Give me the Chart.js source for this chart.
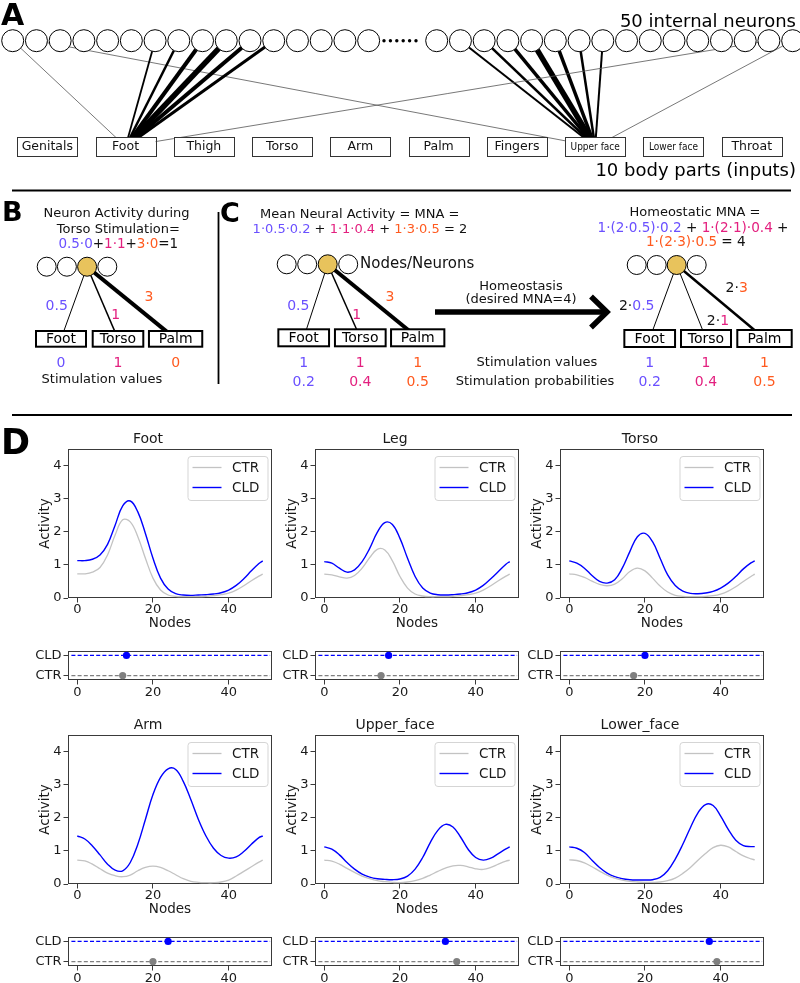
<!DOCTYPE html>
<html><head><meta charset="utf-8">
<script src="https://cdn.jsdelivr.net/npm/chart.js@4.4.1/dist/chart.umd.min.js"></script>
<style>
html,body{margin:0;padding:0;background:#fff;}
#page{position:relative;width:800px;height:983px;overflow:hidden;background:#fff;}
#page canvas{position:absolute;}
</style></head><body><div id="page"></div>
<script>
// ================= DATA =================
// Panel A: network schematic
const BODY_PARTS = ['Genitals','Foot','Thigh','Torso','Arm','Palm','Fingers','Upper face','Lower face','Throat'];
const NEURON_SLOTS = 32; // visible neuron circles (16 left, 16 right of the ellipsis)
// [neuron slot, body part index, connection strength]
const CONNECTIONS = [
  [0,1,0.8],[6,1,1.8],[7,1,2.5],[8,1,4],[9,1,5.5],[10,1,4],[11,1,3],[30,1,0.8],
  [1,7,0.8],[17,7,2],[18,7,2.5],[19,7,3.5],[20,7,5.5],[21,7,3.5],[22,7,2.5],[23,7,2],[31,7,0.8]
];
// Panels B / C
const MINI_PARTS = ['Foot','Torso','Palm'];
const MINI_WEIGHTS = ['0.5','1','3'];
const STIM_B = ['0','1','0'];
const STIM_C = ['1','1','1'];
const PROBS_C = ['0.2','0.4','0.5'];

// Panel D
const NODES = [0,2,4,6,8,10,12,14,16,18,20,22,24,26,28,30,32,34,36,38,40,42,44,46,48,49];
const REGIONS = ['Foot','Leg','Torso','Arm','Upper_face','Lower_face'];
const CTR_FOOT = [0.73,0.73,0.78,0.92,1.30,1.90,2.36,2.30,1.85,1.20,0.60,0.24,0.09,0.05,0.04,0.04,0.04,0.05,0.07,0.10,0.15,0.24,0.37,0.52,0.66,0.72];
const CLD_FOOT = [1.13,1.13,1.17,1.30,1.62,2.20,2.78,2.93,2.60,1.95,1.20,0.60,0.27,0.13,0.09,0.08,0.09,0.10,0.12,0.16,0.24,0.38,0.58,0.82,1.04,1.12];
const CTR_LEG = [0.72,0.70,0.64,0.60,0.68,0.90,1.22,1.47,1.45,1.12,0.65,0.30,0.12,0.06,0.04,0.04,0.04,0.05,0.07,0.10,0.15,0.24,0.37,0.52,0.66,0.72];
const CLD_LEG = [1.10,1.05,0.90,0.78,0.85,1.10,1.50,1.98,2.28,2.22,1.80,1.20,0.65,0.30,0.15,0.10,0.09,0.10,0.12,0.16,0.24,0.38,0.58,0.80,1.02,1.10];
const CTR_TORSO = [0.73,0.70,0.62,0.51,0.41,0.37,0.42,0.58,0.80,0.90,0.82,0.60,0.36,0.18,0.08,0.05,0.04,0.04,0.05,0.07,0.12,0.21,0.34,0.50,0.65,0.72];
const CLD_TORSO = [1.12,1.05,0.90,0.68,0.50,0.45,0.55,0.90,1.40,1.85,1.95,1.70,1.20,0.70,0.38,0.21,0.14,0.13,0.15,0.20,0.30,0.45,0.65,0.88,1.06,1.12];
const CTR_ARM = [0.72,0.70,0.60,0.46,0.33,0.25,0.22,0.27,0.40,0.50,0.54,0.50,0.40,0.28,0.16,0.08,0.05,0.04,0.04,0.06,0.12,0.24,0.38,0.52,0.66,0.72];
const CLD_ARM = [1.45,1.36,1.15,0.88,0.60,0.42,0.40,0.65,1.20,1.95,2.70,3.22,3.48,3.46,3.10,2.55,1.95,1.45,1.08,0.86,0.78,0.82,0.98,1.20,1.40,1.45];
const CTR_UPPER = [0.72,0.69,0.60,0.47,0.35,0.24,0.16,0.10,0.07,0.05,0.04,0.06,0.10,0.17,0.27,0.38,0.48,0.55,0.56,0.52,0.46,0.44,0.50,0.60,0.69,0.72];
const CLD_UPPER = [1.12,1.05,0.88,0.65,0.45,0.30,0.21,0.16,0.14,0.13,0.15,0.24,0.45,0.80,1.25,1.62,1.80,1.72,1.42,1.05,0.80,0.72,0.78,0.92,1.06,1.12];
const CTR_LOWER = [0.73,0.71,0.64,0.52,0.39,0.27,0.18,0.12,0.08,0.06,0.05,0.05,0.06,0.10,0.18,0.32,0.50,0.72,0.92,1.10,1.17,1.12,0.98,0.85,0.76,0.73];
const CLD_LOWER = [1.12,1.08,0.95,0.72,0.50,0.33,0.22,0.16,0.13,0.12,0.12,0.13,0.20,0.40,0.75,1.20,1.70,2.15,2.40,2.37,2.05,1.65,1.32,1.16,1.13,1.13];
const CTR_PEAK = [12,15,17,20,35,39];
const CLD_PEAK = [13,17,20,24,32,37];
const ACTIVITY_TICKS = [0,1,2,3,4];
const NODE_TICKS = [0,20,40];
const GROUP_LABELS = ['CTR','CLD'];

const CTR_SERIES = [CTR_FOOT,CTR_LEG,CTR_TORSO,CTR_ARM,CTR_UPPER,CTR_LOWER];
const CLD_SERIES = [CLD_FOOT,CLD_LEG,CLD_TORSO,CLD_ARM,CLD_UPPER,CLD_LOWER];

// ================= STYLE / LAYOUT =================
const FONT = "'DejaVu Sans', Verdana, sans-serif";
const PURPLE = '#6a50ff', MAGENTA = '#e3207f', ORANGE = '#ff5a1f', GOLD = '#e8c35c';
Chart.defaults.font.family = FONT;
Chart.defaults.color = '#111';
const page = document.getElementById('page');
function addCanvas(l,t,w,h){
  const c = document.createElement('canvas');
  c.width = w; c.height = h;
  c.style.left = l+'px'; c.style.top = t+'px'; c.style.width = w+'px'; c.style.height = h+'px';
  page.appendChild(c); return c;
}
function rich(ctx, segs, x, y, size, align, weight){
  ctx.font = (weight||'') + ' ' + size + 'px ' + FONT;
  const w = segs.reduce((s,[t])=>s+ctx.measureText(t).width,0);
  let cx = align==='center' ? x-w/2 : align==='right' ? x-w : x;
  ctx.textAlign = 'left'; ctx.textBaseline = 'middle';
  for (const [t,c] of segs){ ctx.fillStyle = c; ctx.fillText(t,cx,y); cx += ctx.measureText(t).width; }
}

// ---- Panel A geometry
const A_NY = 40.7, A_NR = 11, A_DX = 23.73, A_X0L = 12.7, A_X0R = 436.7;
const neuronX = i => i < NEURON_SLOTS/2 ? A_X0L + i*A_DX : A_X0R + (i-NEURON_SLOTS/2)*A_DX;
const PART_X0 = 47.3, PART_DX = 78.27, PART_TOP = 137, PART_H = 19, PART_W = 60;
const partX = j => PART_X0 + j*PART_DX;
const PART_CY = PART_TOP + PART_H/2;

// ---- Panels B / C geometry
const MINI = [
  {nx0:46.7, ndx:20.2, ny:266.7, r:9.5, bx:[61,118,175.6], bw:[50,50.6,53.3], btop:331, bh:15.7, lw:[1,1.5,4]},
  {nx0:286.7, ndx:20.5, ny:264.3, r:9.5, bx:[303.7,360.3,417.7], bw:[50.7,50.7,53.3], btop:329.3, bh:17, lw:[1,1.5,4]},
  {nx0:636.7, ndx:20, ny:265, r:9.5, bx:[649.7,706,764.5], bw:[50.7,50,54.4], btop:330, bh:17, lw:[1,1,2.5]}
];
const YELLOW_IDX = 2;

// ---- datasets for diagram chart
const diagDatasets = [];
diagDatasets.push({
  label:'neurons', order:0, clip:false,
  data: Array.from({length:NEURON_SLOTS},(_,i)=>({x:neuronX(i), y:A_NY})),
  pointRadius:A_NR, pointBackgroundColor:'#fff', pointBorderColor:'#000', pointBorderWidth:1, showLine:false
});
CONNECTIONS.forEach(([n,p,s])=>{
  diagDatasets.push({
    label:'link', order:2, clip:false, showLine:true, pointRadius:0,
    data:[{x:neuronX(n), y:A_NY},{x:partX(p), y:PART_CY}],
    borderColor: s < 1 ? '#555' : '#000', borderWidth:s
  });
});
MINI.forEach(m=>{
  diagDatasets.push({
    label:'mini neurons', order:0, clip:false, showLine:false,
    data:[0,1,2,3].map(i=>({x:m.nx0+i*m.ndx, y:m.ny})),
    pointRadius:m.r, pointBorderColor:'#000', pointBorderWidth:1,
    pointBackgroundColor:[0,1,2,3].map(i=> i===YELLOW_IDX ? GOLD : '#fff')
  });
  MINI_PARTS.forEach((p,j)=>{
    diagDatasets.push({
      label:'mini link', order:2, clip:false, showLine:true, pointRadius:0,
      data:[{x:m.nx0+YELLOW_IDX*m.ndx, y:m.ny},{x:m.bx[j], y:m.btop+m.bh/2}],
      borderColor:'#000', borderWidth:m.lw[j]
    });
  });
});

const diagramPlugin = {
  id:'diagram',
  afterDatasetsDraw(chart){
    const ctx = chart.ctx;
    ctx.save();
    // panel letters
    ctx.fillStyle = '#000'; ctx.textAlign = 'left'; ctx.textBaseline = 'alphabetic';
    ctx.font = 'bold 30px ' + FONT; ctx.fillText('A', 1, 25);
    ctx.font = 'bold 27px ' + FONT; ctx.fillText('B', 2, 220.5); ctx.fillText('C', 220, 221.5);
    ctx.font = 'bold 35px ' + FONT; ctx.fillText('D', 1, 454);
    // ellipsis dots
    for (let k=0;k<6;k++){ ctx.beginPath(); ctx.arc(384+k*6.4, A_NY, 1.7, 0, Math.PI*2); ctx.fill(); }
    // A texts
    ctx.font = '18px ' + FONT; ctx.textAlign = 'right';
    ctx.fillText('50 internal neurons', 796, 27);
    ctx.fillText('10 body parts (inputs)', 796, 176);
    // body part boxes
    BODY_PARTS.forEach((p,j)=>{
      const x = partX(j);
      ctx.fillStyle = '#fff'; ctx.fillRect(x-PART_W/2, PART_TOP, PART_W, PART_H);
      ctx.strokeStyle = '#333'; ctx.lineWidth = 1;
      ctx.strokeRect(Math.round(x-PART_W/2)+0.5, PART_TOP+0.5, PART_W, PART_H);
      ctx.fillStyle = '#111'; ctx.textAlign = 'center'; ctx.textBaseline = 'middle';
      const small = p.indexOf(' ')>0;
      ctx.font = (small ? '10px ' : '12.5px ') + (small ? "'DejaVu Sans Condensed', " : '') + FONT;
      ctx.fillText(p, x, PART_CY+0.5);
    });
    // separators
    ctx.strokeStyle = '#000'; ctx.lineWidth = 2;
    ctx.beginPath(); ctx.moveTo(12,190.5); ctx.lineTo(791,190.5); ctx.stroke();
    ctx.beginPath(); ctx.moveTo(12,415); ctx.lineTo(792,415); ctx.stroke();
    ctx.lineWidth = 1.8;
    ctx.beginPath(); ctx.moveTo(218.5,212); ctx.lineTo(218.5,384); ctx.stroke();
    // mini boxes
    MINI.forEach(m=>{
      MINI_PARTS.forEach((p,j)=>{
        const x = m.bx[j], w = m.bw[j];
        ctx.fillStyle = '#fff'; ctx.fillRect(x-w/2, m.btop, w, m.bh);
        ctx.strokeStyle = '#000'; ctx.lineWidth = 2; ctx.strokeRect(x-w/2, m.btop, w, m.bh);
        ctx.fillStyle = '#000'; ctx.textAlign='center'; ctx.textBaseline='middle';
        ctx.font = '14px ' + FONT; ctx.fillText(p, x, m.btop+m.bh/2+0.5);
      });
    });
    const K = '#111';
    // Panel B texts
    rich(ctx, [['Neuron Activity during',K]], 116.5, 213.3, 13, 'center');
    rich(ctx, [['Torso Stimulation=',K]], 118.3, 229.3, 13, 'center');
    rich(ctx, [['0.5·0',PURPLE],['+',K],['1·1',MAGENTA],['+',K],['3·0',ORANGE],['=1',K]], 118.3, 244.5, 13.5, 'center');
    const mb = MINI[0];
    rich(ctx, [[MINI_WEIGHTS[0],PURPLE]], 56.7, 306.7, 14, 'center');
    rich(ctx, [[MINI_WEIGHTS[1],MAGENTA]], 115.7, 315, 14, 'center');
    rich(ctx, [[MINI_WEIGHTS[2],ORANGE]], 149, 297, 14, 'center');
    const cols = [PURPLE, MAGENTA, ORANGE];
    STIM_B.forEach((v,j)=> rich(ctx, [[v,cols[j]]], mb.bx[j], 363.5, 14, 'center'));
    rich(ctx, [['Stimulation values',K]], 102, 380, 13, 'center');
    // Panel C left texts
    rich(ctx, [['Mean Neural Activity = MNA =',K]], 359.7, 215, 13, 'center');
    rich(ctx, [['1·0.5·0.2',PURPLE],[' + ',K],['1·1·0.4',MAGENTA],[' + ',K],['1·3·0.5',ORANGE],[' = 2',K]], 359.9, 230, 13, 'center');
    rich(ctx, [['Nodes/Neurons',K]], 360, 264.3, 15, 'left');
    rich(ctx, [[MINI_WEIGHTS[0],PURPLE]], 298.3, 306.7, 14, 'center');
    rich(ctx, [[MINI_WEIGHTS[1],MAGENTA]], 356.7, 315, 14, 'center');
    rich(ctx, [[MINI_WEIGHTS[2],ORANGE]], 390, 297.7, 14, 'center');
    rich(ctx, [['Homeostasis',K]], 521, 286.7, 13, 'center');
    rich(ctx, [['(desired MNA=4)',K]], 521, 300, 13, 'center');
    // arrow
    ctx.strokeStyle = '#000'; ctx.lineWidth = 5.5; ctx.lineJoin = 'miter'; ctx.lineCap = 'butt';
    ctx.beginPath(); ctx.moveTo(435,312); ctx.lineTo(604,312); ctx.stroke();
    ctx.beginPath(); ctx.moveTo(591,296.5); ctx.lineTo(607,312); ctx.lineTo(591,327.5); ctx.stroke();
    // stimulation rows
    const mc = MINI[1], mr = MINI[2];
    STIM_C.forEach((v,j)=>{ rich(ctx, [[v,cols[j]]], mc.bx[j], 363, 14, 'center'); rich(ctx, [[v,cols[j]]], mr.bx[j], 363, 14, 'center'); });
    PROBS_C.forEach((v,j)=>{ rich(ctx, [[v,cols[j]]], mc.bx[j], 382, 14, 'center'); rich(ctx, [[v,cols[j]]], mr.bx[j], 382, 14, 'center'); });
    rich(ctx, [['Stimulation values',K]], 537, 363, 13, 'center');
    rich(ctx, [['Stimulation probabilities',K]], 535, 382, 13, 'center');
    // Panel C right texts
    rich(ctx, [['Homeostatic MNA =',K]], 695, 212.7, 13, 'center');
    rich(ctx, [['1·(2·0.5)·0.2',PURPLE],[' + ',K],['1·(2·1)·0.4',MAGENTA],[' +',K]], 693, 228.3, 13.6, 'center');
    rich(ctx, [['1·(2·3)·0.5',ORANGE],[' = 4',K]], 695.8, 242.7, 13.6, 'center');
    rich(ctx, [['2·',K],[MINI_WEIGHTS[0],PURPLE]], 636.7, 306.7, 14, 'center');
    rich(ctx, [['2·',K],[MINI_WEIGHTS[1],MAGENTA]], 718, 321.7, 14, 'center');
    rich(ctx, [['2·',K],[MINI_WEIGHTS[2],ORANGE]], 736.7, 288.3, 14, 'center');
    ctx.restore();
  }
};

new Chart(addCanvas(0,0,800,470), {
  type:'scatter',
  data:{datasets:diagDatasets},
  options:{
    responsive:false, animation:false, events:[], devicePixelRatio:1,
    layout:{padding:0, autoPadding:false},
    plugins:{legend:{display:false}, tooltip:{enabled:false}, title:{display:false}},
    scales:{
      x:{type:'linear', min:0, max:800, display:false},
      y:{type:'linear', min:0, max:470, reverse:true, display:false}
    }
  },
  plugins:[diagramPlugin]
});

// ================= PANEL D charts =================
const PLOT_LEFT = [68, 315, 560], PLOT_TOP = [449, 735];
const PW = 204, PH = 149, YW = 44, TH = 20, XH = 34, PR = 6;
const X_MIN = -2.45, X_MAX = 51.45;
const DOT_GAP = 53, DOT_H = 29, DOT_XH = 20, DOT_PT = 2;
const SPINE = '#3a3a3a', TXT = '#1a1a1a';
const BLUE = '#0000ff', GREY = '#808080';

const framePlugin = {
  id:'frame',
  beforeDatasetsDraw(chart){
    const {ctx, chartArea:a} = chart;
    ctx.save(); ctx.strokeStyle = SPINE; ctx.lineWidth = 1;
    ctx.strokeRect(Math.round(a.left)+0.5, Math.round(a.top)+0.5, Math.round(a.right-a.left)-1, Math.round(a.bottom-a.top)-1);
    ctx.restore();
  }
};
const legendPlugin = {
  id:'mplLegend',
  afterDraw(chart){
    const {ctx, chartArea:a} = chart;
    const w = 80, h = 44, x = a.right - 4.5 - w, y = a.top + 7;
    ctx.save();
    ctx.beginPath(); ctx.roundRect(x+0.5, y+0.5, w, h, 3);
    ctx.fillStyle = 'rgba(255,255,255,0.85)'; ctx.fill();
    ctx.strokeStyle = '#d5d5d5'; ctx.lineWidth = 1; ctx.stroke();
    chart.data.datasets.forEach((ds,i)=>{
      const yy = y + 11.5 + i*20;
      ctx.strokeStyle = ds.borderColor; ctx.lineWidth = ds.borderWidth;
      ctx.beginPath(); ctx.moveTo(x+5, yy); ctx.lineTo(x+34, yy); ctx.stroke();
      ctx.fillStyle = TXT; ctx.font = '13.5px ' + FONT; ctx.textAlign='left'; ctx.textBaseline='middle';
      ctx.fillText(ds.label, x+44.5, yy+0.5);
    });
    ctx.restore();
  }
};

function tickFont(s){ return {family:FONT, size:s, lineHeight:1}; }
function fitX(h){ return s=>{ s.height = h; s.paddingLeft = 0; s.paddingRight = 0; s.paddingTop = 0; s.paddingBottom = 0; }; }
function fitY(w){ return s=>{ s.width = w; s.paddingLeft = 0; s.paddingRight = 0; s.paddingTop = 0; s.paddingBottom = 0; }; }

REGIONS.forEach((name,k)=>{
  const col = k%3, row = Math.floor(k/3);
  const pl = PLOT_LEFT[col], pt = PLOT_TOP[row];
  const cv = addCanvas(pl-YW, pt-TH, YW+PW+PR, TH+PH+XH);
  new Chart(cv, {
    type:'line',
    data:{datasets:[
      {label:'CTR', data:NODES.map((n,i)=>({x:n, y:CTR_SERIES[k][i]})), borderColor:'#c3c3c3', borderWidth:1.3, pointRadius:0, tension:0.4, fill:false},
      {label:'CLD', data:NODES.map((n,i)=>({x:n, y:CLD_SERIES[k][i]})), borderColor:BLUE, borderWidth:1.4, pointRadius:0, tension:0.4, fill:false}
    ]},
    options:{
      responsive:false, animation:false, events:[], devicePixelRatio:1,
      layout:{padding:{left:0, right:PR, top:0, bottom:0}, autoPadding:false},
      plugins:{
        legend:{display:false}, tooltip:{enabled:false},
        title:{display:true, text:name, color:TXT, font:{family:FONT, size:14, lineHeight:1, weight:'normal'}, padding:{top:3, bottom:3}}
      },
      scales:{
        x:{type:'linear', min:X_MIN, max:X_MAX,
          afterBuildTicks:s=>{ s.ticks = NODE_TICKS.map(v=>({value:v})); },
          afterFit:fitX(XH),
          grid:{drawOnChartArea:false, drawTicks:true, tickLength:4.5, color:SPINE, tickWidth:1},
          border:{display:false},
          ticks:{font:tickFont(13), color:TXT, padding:0.5, maxRotation:0, autoSkip:false},
          title:{display:true, text:'Nodes', color:TXT, font:tickFont(13.5), padding:{top:0, bottom:1.8}}
        },
        y:{type:'linear', min:0, max:4.5,
          afterBuildTicks:s=>{ s.ticks = ACTIVITY_TICKS.map(v=>({value:v})); },
          afterFit:fitY(YW),
          grid:{drawOnChartArea:false, drawTicks:true, tickLength:4.5, color:SPINE, tickWidth:1},
          border:{display:false},
          ticks:{font:tickFont(13), color:TXT, padding:2, autoSkip:false},
          title:{display:true, text:'Activity', color:TXT, font:tickFont(13.5), padding:{top:14.3, bottom:0}}
        }
      }
    },
    plugins:[framePlugin, legendPlugin]
  });

  // peak-position strip
  const dtop = pt + PH + DOT_GAP;
  const dv = addCanvas(pl-YW, dtop-DOT_PT, YW+PW+PR, DOT_PT+DOT_H+DOT_XH);
  new Chart(dv, {
    type:'scatter',
    data:{datasets:[
      {label:'CLD', data:[{x:CLD_PEAK[k], y:1}], pointRadius:3.6, pointBackgroundColor:BLUE, pointBorderColor:BLUE, pointBorderWidth:0},
      {label:'CTR', data:[{x:CTR_PEAK[k], y:0}], pointRadius:3.6, pointBackgroundColor:GREY, pointBorderColor:GREY, pointBorderWidth:0},
      {label:'CLD span', data:[{x:X_MIN+0.9, y:1},{x:X_MAX-0.5, y:1}], showLine:true, pointRadius:0, borderColor:BLUE, backgroundColor:BLUE, borderWidth:1.3, borderDash:[4,2.2]},
      {label:'CTR span', data:[{x:X_MIN+0.9, y:0},{x:X_MAX-0.5, y:0}], showLine:true, pointRadius:0, borderColor:GREY, backgroundColor:GREY, borderWidth:1.3, borderDash:[4,2.2]}
    ]},
    options:{
      responsive:false, animation:false, events:[], devicePixelRatio:1,
      layout:{padding:{left:0, right:PR, top:DOT_PT, bottom:0}, autoPadding:false},
      plugins:{legend:{display:false}, tooltip:{enabled:false}, title:{display:false}},
      scales:{
        x:{type:'linear', min:X_MIN, max:X_MAX,
          afterBuildTicks:s=>{ s.ticks = NODE_TICKS.map(v=>({value:v})); },
          afterFit:fitX(DOT_XH),
          grid:{drawOnChartArea:false, drawTicks:true, tickLength:4.5, color:SPINE, tickWidth:1},
          border:{display:false},
          ticks:{font:tickFont(13), color:TXT, padding:2, maxRotation:0, autoSkip:false}
        },
        y:{type:'linear', min:-0.22, max:1.22,
          afterBuildTicks:s=>{ s.ticks = [0,1].map(v=>({value:v})); },
          afterFit:fitY(YW),
          grid:{drawOnChartArea:false, drawTicks:true, tickLength:4.5, color:SPINE, tickWidth:1},
          border:{display:false},
          ticks:{font:tickFont(13), color:TXT, padding:2, autoSkip:false, callback:v=>GROUP_LABELS[v]}
        }
      }
    },
    plugins:[framePlugin]
  });
});
</script>
</body></html>
